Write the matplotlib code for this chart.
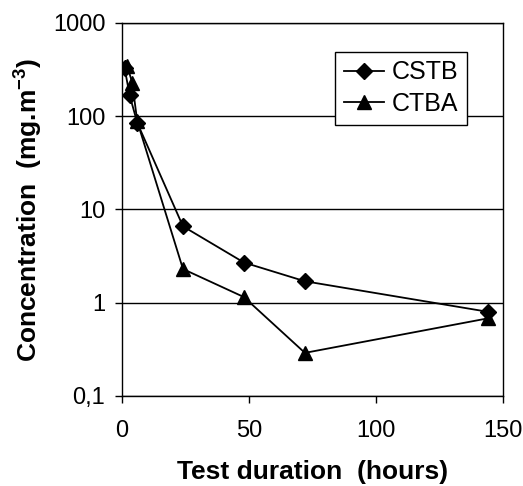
import numpy as np
import matplotlib
matplotlib.use("Agg")
import matplotlib.pyplot as plt
from matplotlib.ticker import FixedLocator, NullLocator

plt.rcParams['font.family'] = ['Liberation Sans', 'DejaVu Sans']
plt.rcParams['mathtext.fontset'] = 'custom'
plt.rcParams['mathtext.rm'] = 'Liberation Sans:bold'
plt.rcParams['mathtext.default'] = 'rm'

# Datos
horas_cstb = [1, 3, 6, 24, 48, 72, 144]
conc_cstb = [330, 168, 85, 6.6, 2.7, 1.7, 0.8]
horas_ctba = [2, 4, 6, 24, 48, 72, 144]
conc_ctba = [350, 230, 88, 2.3, 1.15, 0.29, 0.68]

ticks_y = [0.1, 1, 10, 100, 1000]
etiquetas_y = ['0,1', '1', '10', '100', '1000']
ticks_x = [0, 50, 100, 150]

fig = plt.figure(figsize=(5.23, 4.86), dpi=100)
ax = fig.add_axes([0.2333, 0.1852, 0.7285, 0.7675])

ax.plot(horas_cstb, conc_cstb, color='black', lw=1.3, marker='D', ms=8.5, label='CSTB')
ax.plot(horas_ctba, conc_ctba, color='black', lw=1.3, marker='^', ms=10.5, label='CTBA')

ax.set_yscale('log')
ax.set_ylim(0.1, 1000)
ax.set_xlim(0, 150)
ax.yaxis.set_major_locator(FixedLocator(ticks_y))
ax.yaxis.set_minor_locator(NullLocator())
ax.set_yticklabels(etiquetas_y)
ax.set_xticks(ticks_x)

ax.grid(axis='y', color='black', lw=1)
for s in ax.spines.values():
    s.set_color('black')
    s.set_linewidth(1)

ax.tick_params(direction='out', length=5, width=1, labelsize=17, pad=7)
ax.tick_params(axis='x', pad=12)

ax.set_xlabel('Test duration  (hours)', fontsize=19, fontweight='bold', labelpad=13)
ax.set_ylabel('Concentration  (mg.m$^{-3}$)', fontsize=19, fontweight='bold', labelpad=6)

leg = ax.legend(loc='upper right', bbox_to_anchor=(0.905, 0.923), fontsize=18,
                frameon=True, fancybox=False, edgecolor='black', framealpha=1,
                handlelength=1.6, handletextpad=0.3, borderpad=0.35, labelspacing=0.3,
                borderaxespad=0)
leg.get_frame().set_linewidth(1)

fig.savefig('out.png', dpi=100)
